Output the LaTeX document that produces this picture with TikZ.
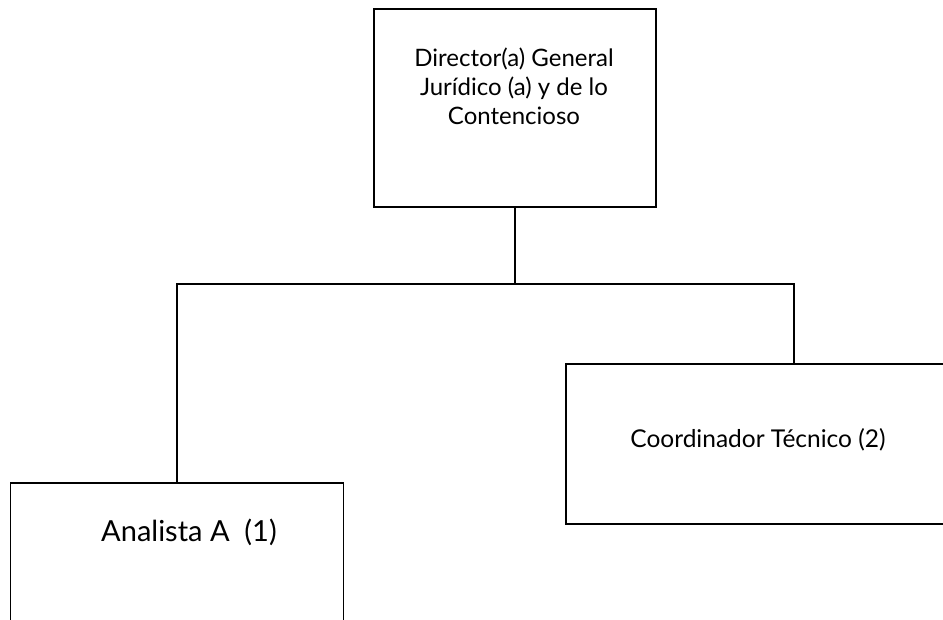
\documentclass[tikz,border=0pt]{standalone}
\usepackage{fontspec}
\setmainfont{Lato}
\usetikzlibrary{positioning, calc}

\begin{document}
\begin{tikzpicture}[
    x=1pt, y=-1pt,
    box/.style={draw, line width=1.4pt, inner sep=0pt},
    txt/.style={font=\fontsize{24}{29}\selectfont, align=center},
    link/.style={line width=1.4pt},
]
% ============================================================
% frame of the page (clips the boxes cut by the border)
% ============================================================
\clip (0,0) rectangle (943,619);
% --- top box ---
\node[box, minimum width=282pt, minimum height=198pt] (dir) at (515,108) {};
\node[txt] (dirtxt) at (514,86) {Director(a) General\\Jurídico (a) y de lo\\Contencioso};
% --- left box (bottom cut off) ---
\node[box, minimum width=333pt, minimum height=260pt] (ana) at (177,613) {};
\node[txt, font=\fontsize{29}{34}\selectfont] (anatxt) at (189,532) {Analista A\ \ (1)};
% --- right box (right side cut off) ---
\node[box, minimum width=456pt, minimum height=160pt] (coord) at (794,444) {};
\node[txt, font=\fontsize{24.5}{29}\selectfont] (coordtxt) at (758,440) {Coordinador Técnico (2)};
% ============================================================
% connectors
% ============================================================
\coordinate (bus) at (dir.south |- 0,284);
\draw[link] (dir.south) -- (bus);
\draw[link] (ana.north) |- (bus) -| (coord.north);
\end{tikzpicture}
\end{document}
